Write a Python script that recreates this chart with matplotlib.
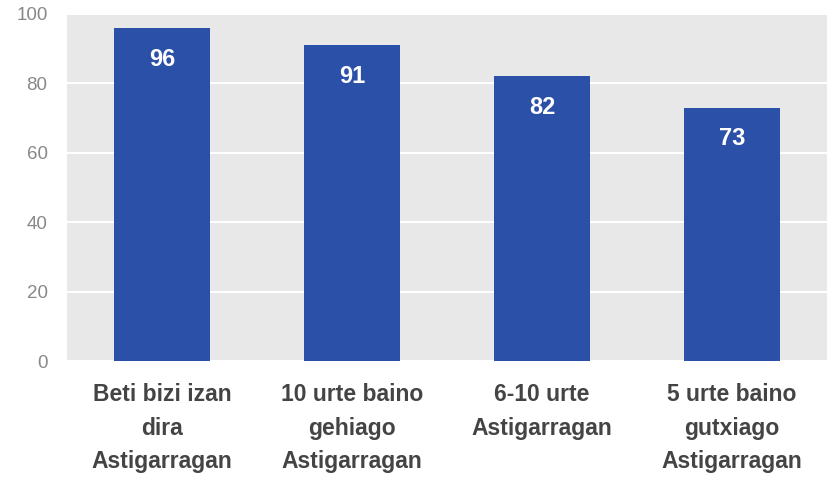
import matplotlib.pyplot as plt

categories = ["Beti bizi izan\ndira\nAstigarragan", "10 urte baino\ngehiago\nAstigarragan",
              "6-10 urte\nAstigarragan", "5 urte baino\ngutxiago\nAstigarragan"]
values = [96, 91, 82, 73]
yticks = [0, 20, 40, 60, 80, 100]

fig = plt.figure(figsize=(8.33, 4.83), dpi=100)
ax = fig.add_axes([67/833, 1-361/483, 760/833, 347/483])
ax.set_facecolor("#e8e8e8")
x = range(len(values))
ax.bar(x, values, width=0.505, color="#2b50a8", zorder=2)
for i, v in zip(x, values):
    ax.annotate(str(v), (i, v), xytext=(0, -22.5), textcoords="offset points",
                ha="center", va="center", color="white",
                fontsize=17, fontweight="bold", family="Liberation Sans", zorder=3)

ax.set_xlim(-0.5, 3.5)
ax.set_ylim(0, 100)
ax.set_yticks(yticks)
ax.set_yticklabels([str(t) for t in yticks], color="#888888", fontsize=13.5, family="Liberation Sans")
ax.yaxis.grid(True, color="white", linewidth=1.5, zorder=1)
ax.set_xticks(list(x))
ax.set_xticklabels(categories, fontsize=16.5, fontweight="bold", color="#444444",
                   family="Liberation Sans", linespacing=1.58)
ax.tick_params(length=0)
ax.tick_params(axis="x", pad=16)
ax.tick_params(axis="y", pad=14)
for s in ax.spines.values():
    s.set_visible(False)

fig.savefig("out.png", dpi=100)
